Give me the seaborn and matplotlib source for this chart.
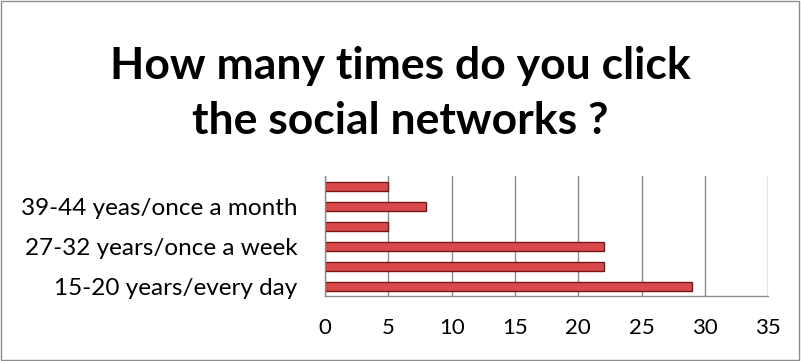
import matplotlib
matplotlib.use("Agg")
import matplotlib.pyplot as plt
from matplotlib.patches import Rectangle
import pandas as pd
import seaborn as sns

# ------------------------------------------------------------
# Data (top to bottom, as drawn)
# ------------------------------------------------------------
categories = [
    "45-50 years",
    "39-44 yeas/once a month",
    "33-38 years",
    "27-32 years/once a week",
    "21-26 years",
    "15-20 years/every day",
]
counts = [5, 8, 5, 22, 22, 29]
shown_labels = ["", "39-44 yeas/once a month", "", "27-32 years/once a week", "", "15-20 years/every day"]
x_ticks = [0, 5, 10, 15, 20, 25, 30, 35]

df = pd.DataFrame({"category": categories, "count": counts})

# ------------------------------------------------------------
# Plot
# ------------------------------------------------------------
sns.set_style("white")
plt.rcParams["font.family"] = ["Lato", "DejaVu Sans"]
plt.rcParams["text.color"] = "black"
plt.rcParams["xtick.color"] = "black"
plt.rcParams["ytick.color"] = "black"

fig = plt.figure(figsize=(8.01, 3.61), dpi=100)
ax = fig.add_axes([0.406, 0.18, 0.553, 0.332])

sns.barplot(
    data=df,
    x="count",
    y="category",
    order=categories,
    color="#d9484a",
    edgecolor="#7a1616",
    linewidth=1,
    width=0.45,
    saturation=1,
    ax=ax,
)

ax.set_xlim(0, 35)
ax.set_ylim(5.5, -0.5)
ax.set_xticks(x_ticks)
ax.set_xticklabels([str(t) for t in x_ticks], fontsize=16)
ax.set_yticks(range(len(categories)))
ax.set_yticklabels(shown_labels, fontsize=17.5)
ax.tick_params(axis="x", length=0, pad=16)
ax.tick_params(axis="y", length=0, pad=20)
ax.set_xlabel("")
ax.set_ylabel("")

# category boundary ticks on the left axis
ax.set_yticks([i + 0.5 for i in range(-1, len(categories))], minor=True)
ax.tick_params(axis="y", which="minor", length=4, color="#888888", direction="out")

ax.grid(axis="x", color="#8c8c8c", linewidth=1)
ax.set_axisbelow(True)
for side in ["top", "right"]:
    ax.spines[side].set_visible(False)
for side in ["left", "bottom"]:
    ax.spines[side].set_color("#8c8c8c")
    ax.spines[side].set_linewidth(1)

fig.text(0.5, 0.74, "How many times do you click\nthe social networks ?",
         ha="center", va="center", fontsize=32, fontweight="bold",
         linespacing=1.45)

# chart border
fig.add_artist(Rectangle((0.001, 0.002), 0.997, 0.995, transform=fig.transFigure,
                         fill=False, edgecolor="#8c8c8c", linewidth=1))

plt.savefig("out.png", dpi=100)
